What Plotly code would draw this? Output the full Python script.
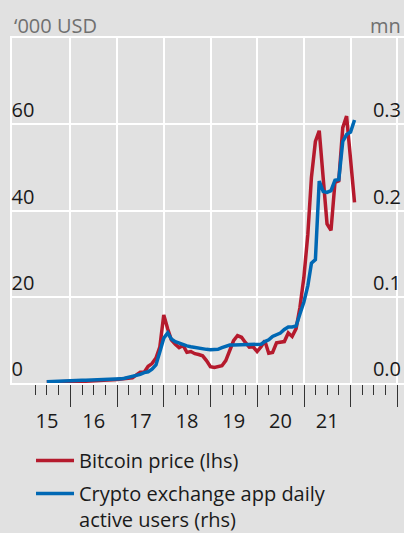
import pandas as pd
import plotly.graph_objects as go

# monthly averages, plotted at month end (Jun 2015 - Jan 2022)
months = pd.date_range("2015-07-01", periods=80, freq="MS") - pd.Timedelta(days=1)

# Bitcoin price, '000 USD (lhs)
btc_price = [
    0.24, 0.28, 0.25, 0.23, 0.26, 0.35, 0.42,
    0.41, 0.40, 0.42, 0.43, 0.46, 0.64, 0.66, 0.58, 0.60, 0.64, 0.72, 0.82,
    0.91, 1.06, 1.13, 1.2, 1.9, 2.5, 2.5, 3.9, 4.5, 5.8, 8.3, 15.8,
    12.5, 10.0, 9.0, 8.2, 8.7, 7.1, 7.3, 6.8, 6.6, 6.3, 5.2, 3.8,
    3.6, 3.7, 4.0, 5.2, 7.8, 9.8, 11.0, 10.6, 9.4, 8.3, 8.4, 7.3,
    8.4, 9.8, 6.9, 7.1, 9.3, 9.4, 9.6, 11.6, 10.8, 12.6, 17.5, 24.5,
    34.5, 47.7, 56.0, 58.5, 46.5, 36.9, 35.4, 46.5, 46.9, 59.2, 61.9, 50.8,
    41.9,
]

# crypto exchange app daily active users, mn (rhs)
app_users = [
    0.0015, 0.0018, 0.002, 0.0022, 0.0024, 0.0026, 0.0028,
    0.003, 0.0031, 0.0032, 0.0033, 0.0034, 0.0035, 0.0036, 0.0037, 0.0038, 0.0039, 0.004, 0.0042,
    0.0048, 0.0055, 0.0065, 0.0075, 0.0085, 0.010, 0.012, 0.013, 0.016, 0.021, 0.036, 0.052,
    0.058, 0.051, 0.048, 0.046, 0.044, 0.043, 0.042, 0.041, 0.040, 0.040, 0.039, 0.0385,
    0.0385, 0.039, 0.041, 0.043, 0.044, 0.044, 0.044, 0.044, 0.044, 0.044, 0.044, 0.044,
    0.045, 0.048, 0.050, 0.054, 0.056, 0.058, 0.062, 0.065, 0.065, 0.066, 0.080, 0.094,
    0.113, 0.139, 0.143, 0.234, 0.222, 0.221, 0.223, 0.235, 0.236, 0.280, 0.288, 0.291,
    0.305,
]

year_mid = ["2015-07-01", "2016-07-01", "2017-07-01", "2018-07-01",
            "2019-07-01", "2020-07-01", "2021-07-01"]
year_labels = ["15", "16", "17", "18", "19", "20", "21"]
lhs_ticks = [0, 20, 40, 60]
rhs_ticks = [0, 0.1, 0.2, 0.3]

RED = "#b51a2d"
BLUE = "#0068b4"
BG = "#e1e1e1"
FONT = "Open Sans"
x_range = ["2014-10-01", "2023-02-22"]

fig = go.Figure()
fig.add_trace(go.Scatter(
    x=months, y=app_users, mode="lines", name="Crypto exchange app daily<br>active users (rhs)",
    line=dict(color=BLUE, width=3.5), xaxis="x2", yaxis="y2",
    legendgroup="b", legendrank=2,
))
fig.add_trace(go.Scatter(
    x=months, y=btc_price, mode="lines", name="Bitcoin price (lhs)",
    line=dict(color=RED, width=3.5), legendgroup="a", legendrank=1,
))

fig.update_layout(
    width=404, height=533,
    margin=dict(l=12, r=0, t=38, b=150),
    paper_bgcolor=BG, plot_bgcolor=BG,
    font=dict(family=FONT, size=20, color="#1a1a1a"),
    showlegend=True,
    legend=dict(
        x=0.0485, xanchor="left", y=1 - 441 / 533, yref="container", yanchor="top",
        bgcolor="rgba(0,0,0,0)", traceorder="grouped", tracegroupgap=4,
        valign="top", itemwidth=38, font=dict(size=20, color="#1a1a1a"),
    ),
    xaxis=dict(
        type="date", range=x_range, dtick="M12", tick0="2016-01-01",
        showgrid=True, gridcolor="white", gridwidth=1.5,
        showline=True, linecolor="white", linewidth=1.5, mirror=True,
        ticks="outside", ticklen=22, tickcolor="#333333", tickwidth=1,
        showticklabels=False, zeroline=False,
        minor=dict(dtick="M3", tick0="2016-01-01", ticks="outside", ticklen=10,
                   tickcolor="#333333", tickwidth=1, showgrid=False),
    ),
    xaxis2=dict(
        type="date", range=x_range, overlaying="x", matches="x", side="bottom",
        tickvals=year_mid, ticktext=year_labels, showgrid=False, zeroline=False,
        ticks="outside", ticklen=20, tickcolor="rgba(0,0,0,0)",
        tickfont=dict(size=20, color="#1a1a1a"),
    ),
    yaxis=dict(
        range=[0, 80], tickvals=lhs_ticks, showgrid=True, gridcolor="white", gridwidth=1.5,
        showline=True, linecolor="white", linewidth=1.5, zeroline=False,
        ticklabelposition="inside top", ticks="", tickfont=dict(size=20, color="#1a1a1a"),
    ),
    yaxis2=dict(
        range=[0, 0.4], tickvals=rhs_ticks, tickformat=".1f", overlaying="y", side="right",
        showgrid=False, zeroline=False, ticklabelposition="inside top", ticks="",
        tickfont=dict(size=20, color="#1a1a1a"),
    ),
    annotations=[
        dict(text="‘000 USD", xref="paper", yref="paper", x=0, y=1, xanchor="left",
             yanchor="bottom", yshift=-3, showarrow=False, font=dict(size=20, color="#707070")),
        dict(text="mn", xref="paper", yref="paper", x=1, y=1, xanchor="right",
             yanchor="bottom", yshift=-3, xshift=-1, showarrow=False,
             font=dict(size=20, color="#707070")),
    ],
)

# drop the page's default body margin so the figure sits at the top-left corner
fig.write_html("out.html", config={"displayModeBar": False}, post_script=(
    "document.body.style.margin='0';"
    "document.body.style.background='" + BG + "';"
))
